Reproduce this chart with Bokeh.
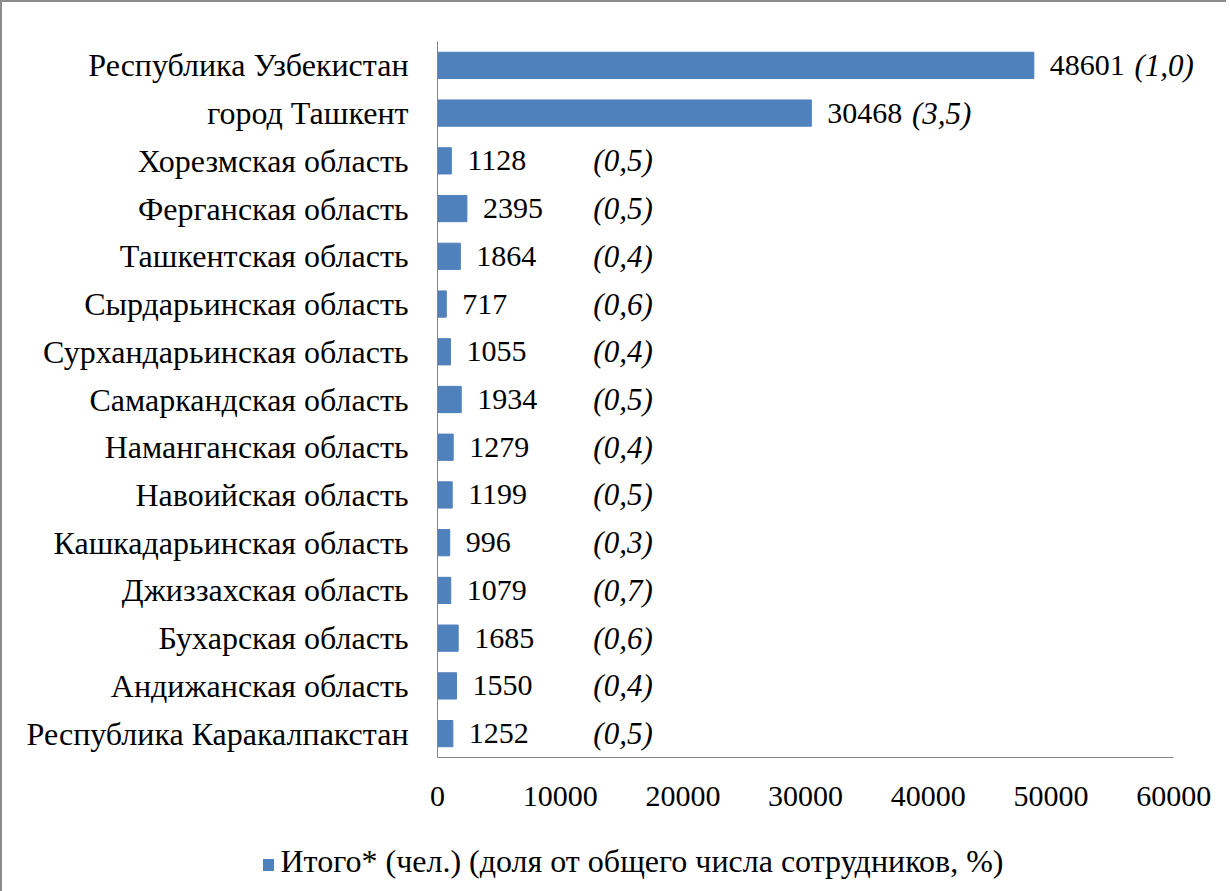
from bokeh.plotting import figure
from bokeh.models import (ColumnDataSource, FactorRange, Range1d, FixedTicker,
                          NumeralTickFormatter, LabelSet, Div)
from bokeh.layouts import column
from bokeh.core.properties import value
from bokeh.embed import file_html
from bokeh.resources import INLINE

# ---- data (top to bottom as in the picture) ----
regions = [
    "Республика Узбекистан",
    "город Ташкент",
    "Хорезмская область",
    "Ферганская область",
    "Ташкентская область",
    "Сырдарьинская область",
    "Сурхандарьинская область",
    "Самаркандская область",
    "Наманганская область",
    "Навоийская область",
    "Кашкадарьинская область",
    "Джиззахская область",
    "Бухарская область",
    "Андижанская область",
    "Республика Каракалпакстан",
]
employees = [48601, 30468, 1128, 2395, 1864, 717, 1055, 1934, 1279, 1199, 996, 1079, 1685, 1550, 1252]
shares = ["(1,0)", "(3,5)", "(0,5)", "(0,5)", "(0,4)", "(0,6)", "(0,4)", "(0,5)",
          "(0,4)", "(0,5)", "(0,3)", "(0,7)", "(0,6)", "(0,4)", "(0,5)"]
x_ticks = [0, 10000, 20000, 30000, 40000, 50000, 60000]
legend_label = "Итого* (чел.) (доля от общего числа сотрудников, %)"

FONT = "Liberation Serif"
BAR_COLOR = "#4F81BD"
AXIS_COLOR = "#868686"

pct_x = [max(v + 8200, 12700) for v in employees]
src = ColumnDataSource(dict(
    region=regions,
    emp=employees,
    vlabel=[str(v) for v in employees],
    share=shares,
    pct_x=pct_x,
))

p = figure(
    width=1214, height=818,
    y_range=FactorRange(factors=list(reversed(regions)), range_padding=0),
    x_range=Range1d(0, 63000),
    output_backend="svg", toolbar_location=None,
    min_border_left=435, min_border_right=6, min_border_top=39, min_border_bottom=63,
)

bars = p.hbar(y="region", right="emp", left=0, height=0.55, source=src,
              fill_color=BAR_COLOR, line_color=BAR_COLOR)

p.add_layout(LabelSet(x="emp", y="region", text="vlabel", source=src, x_offset=16,
                      text_baseline="middle", text_align="left",
                      text_font=value(FONT), text_font_size="30px", text_color="black"))
p.add_layout(LabelSet(x="pct_x", y="region", text="share", source=src,
                      text_baseline="middle", text_align="left",
                      text_font=value(FONT), text_font_size="31px",
                      text_font_style="italic", text_color="black"))

p.xgrid.visible = False
p.ygrid.visible = False
p.outline_line_color = None

p.xaxis.ticker = FixedTicker(ticks=x_ticks)
p.xaxis.bounds = (x_ticks[0], x_ticks[-1])
p.xaxis.formatter = NumeralTickFormatter(format="0")
p.xaxis.axis_line_color = AXIS_COLOR
p.xaxis.major_tick_line_color = None
p.xaxis.minor_tick_line_color = None
p.xaxis.major_label_standoff = 23
p.xaxis.major_label_text_font = FONT
p.xaxis.major_label_text_font_size = "30px"
p.xaxis.major_label_text_color = "black"

p.yaxis.axis_line_color = AXIS_COLOR
p.yaxis.major_tick_line_color = None
p.yaxis.minor_tick_line_color = None
p.yaxis.major_label_standoff = 23
p.yaxis.major_label_text_font = FONT
p.yaxis.major_label_text_font_size = "32px"
p.yaxis.major_label_text_color = "black"

legend_html = (
    "<div style=\"width:1214px;text-align:center;font-family:'Liberation Serif';"
    "font-size:32px;line-height:40px;padding-top:16px;padding-left:38px;color:black;\">"
    "<span style=\"display:inline-block;width:11px;height:12px;background:" + BAR_COLOR + ";"
    "margin-right:7px;vertical-align:middle;\"></span>" + legend_label + "</div>"
)
legend_div = Div(text=legend_html, width=1214, height=66)

layout = column(p, legend_div, spacing=0,
                styles={"border-top": "2px solid #8c8c8c", "border-left": "2px solid #8c8c8c"})

open("out.html", "w").write(file_html(layout, INLINE))
